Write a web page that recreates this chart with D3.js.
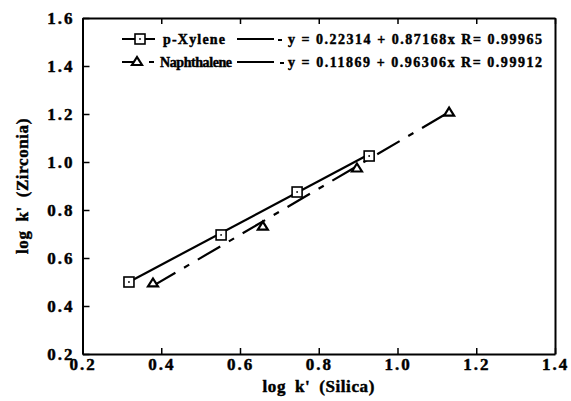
<!DOCTYPE html>
<html><head><meta charset="utf-8">
<script src="https://cdn.jsdelivr.net/npm/d3@7"></script>
<style>
html,body{margin:0;padding:0;background:#fff;}
svg{display:block;}
text{font-family:"Liberation Serif","Times New Roman",serif;font-weight:bold;fill:#000;stroke:#000;stroke-width:0.45px;}
</style></head>
<body><svg id="c" width="571" height="401"></svg>
<script>
// ---- data ----
const xylSilica = [0.318, 0.552, 0.745, 0.928];
const xylZirconia = [0.500, 0.696, 0.875, 1.025];
const napSilica = [0.379, 0.658, 0.897, 1.131];
const napZirconia = [0.496, 0.733, 0.975, 1.208];
const seriesNames = ["p-Xylene", "Naphthalene"];
const fitIntercepts = [0.22314, 0.11869];
const fitSlopes = [0.87168, 0.96306];
const fitR = ["0.99965", "0.99912"];
const xTicks = [0.2, 0.4, 0.6, 0.8, 1.0, 1.2, 1.4];
const yTicks = [0.2, 0.4, 0.6, 0.8, 1.0, 1.2, 1.4, 1.6];

const svg = d3.select("#c");
const L = 82.5, R = 555, T = 18, B = 354;
const x = d3.scaleLinear().domain([0.2, 1.4]).range([L, R]);
const y = d3.scaleLinear().domain([0.2, 1.6]).range([B, T]);

// axes (ticks inward)
const gx = svg.append("g").attr("transform", `translate(0,${B})`)
  .call(d3.axisBottom(x).tickValues(xTicks).tickSize(-6).tickSizeOuter(0).tickPadding(4).tickFormat(d3.format(".1f")));
const gy = svg.append("g").attr("transform", `translate(${L},0)`)
  .call(d3.axisLeft(y).tickValues(yTicks).tickSize(-7).tickSizeOuter(0).tickPadding(10).tickFormat(d3.format(".1f")));
const gt = svg.append("g").attr("transform", `translate(0,${T})`)
  .call(d3.axisTop(x).tickValues(xTicks).tickSize(-6).tickSizeOuter(0).tickFormat(""));
const gr = svg.append("g").attr("transform", `translate(${R},0)`)
  .call(d3.axisRight(y).tickValues([]).tickSizeOuter(0));
[gx, gy, gt, gr].forEach(g => {
  g.select(".domain").attr("stroke", "#000").attr("stroke-width", 2);
  g.selectAll(".tick line").attr("stroke", "#000").attr("stroke-width", 1.5);
});
gx.selectAll(".tick text").attr("font-size", 17).attr("letter-spacing", "2px")
  .attr("font-family", "Liberation Serif").attr("font-weight", "bold").attr("fill", "#000").attr("dy", "0.72em");
gy.selectAll(".tick text").attr("font-size", 17).attr("letter-spacing", "2px")
  .attr("font-family", "Liberation Serif").attr("font-weight", "bold").attr("fill", "#000").attr("x", -8);

// axis titles
svg.append("text").attr("x", (L + R) / 2).attr("y", 392).attr("text-anchor", "middle")
  .attr("font-size", 17).attr("letter-spacing", "0.6px").attr("word-spacing", "4px").text("log k' (Silica)");
svg.append("text").attr("transform", `translate(28,${(T + B) / 2}) rotate(-90)`).attr("text-anchor", "middle")
  .attr("font-size", 17).attr("letter-spacing", "0.6px").attr("word-spacing", "4px").text("log k' (Zirconia)");

// fit lines
const dashNap = "26,10,6,10";
function fitLine(i, xs, dash) {
  const x0 = xs[0], x1 = xs[xs.length - 1];
  svg.append("line")
    .attr("x1", x(x0)).attr("y1", y(fitIntercepts[i] + fitSlopes[i] * x0))
    .attr("x2", x(x1)).attr("y2", y(fitIntercepts[i] + fitSlopes[i] * x1))
    .attr("stroke", "#000").attr("stroke-width", 2.2).attr("stroke-dasharray", dash);
}
fitLine(0, xylSilica, null);
fitLine(1, napSilica, dashNap);

// markers
function square(g, cx, cy) {
  g.append("rect").attr("x", cx - 5).attr("y", cy - 5).attr("width", 10).attr("height", 10)
    .attr("fill", "#fff").attr("stroke", "#000").attr("stroke-width", 1.6);
  g.append("circle").attr("cx", cx).attr("cy", cy).attr("r", 0.9).attr("fill", "#000");
}
function tri(g, cx, cy) {
  g.append("path").attr("d", `M${cx - 5},${cy + 3.5} L${cx + 5},${cy + 3.5} L${cx},${cy - 4.5} Z`)
    .attr("fill", "#fff").attr("stroke", "#000").attr("stroke-width", 2.2);
}
const gm = svg.append("g");
xylSilica.forEach((v, i) => square(gm, x(v), y(xylZirconia[i])));
napSilica.forEach((v, i) => tri(gm, x(v), y(napZirconia[i])));

// legend
const lg = svg.append("g");
const rows = [39, 62];
// row 1 symbol
lg.append("line").attr("x1", 122).attr("x2", 155).attr("y1", rows[0]).attr("y2", rows[0]).attr("stroke", "#000").attr("stroke-width", 2);
square(lg, 140, rows[0]);
// row 2 symbol
lg.append("line").attr("x1", 122).attr("x2", 134).attr("y1", rows[1]).attr("y2", rows[1]).attr("stroke", "#000").attr("stroke-width", 2);
tri(lg, 137, rows[1] - 0.5);
lg.append("line").attr("x1", 149).attr("x2", 154).attr("y1", rows[1]).attr("y2", rows[1]).attr("stroke", "#000").attr("stroke-width", 2);
lg.append("text").attr("x", 163).attr("y", rows[0] + 4.5).attr("font-size", 14)
  .attr("textLength", 62).attr("lengthAdjust", "spacing").text(seriesNames[0]);
lg.append("text").attr("x", 160).attr("y", rows[1] + 4.5).attr("font-size", 14)
  .attr("textLength", 72).attr("lengthAdjust", "spacing").text(seriesNames[1]);
// fit samples
lg.append("line").attr("x1", 237).attr("x2", 274).attr("y1", rows[0]).attr("y2", rows[0]).attr("stroke", "#000").attr("stroke-width", 2);
lg.append("line").attr("x1", 278).attr("x2", 282).attr("y1", rows[0] + 1).attr("y2", rows[0] + 1).attr("stroke", "#000").attr("stroke-width", 2);
lg.append("line").attr("x1", 237).attr("x2", 274).attr("y1", rows[1]).attr("y2", rows[1]).attr("stroke", "#000").attr("stroke-width", 2);
lg.append("line").attr("x1", 280).attr("x2", 284).attr("y1", rows[1] + 1).attr("y2", rows[1] + 1).attr("stroke", "#000").attr("stroke-width", 2);
[0, 1].forEach(i => {
  lg.append("text").attr("x", 288).attr("y", rows[i] + 4.5).attr("font-size", 14)
    .attr("textLength", 254).attr("lengthAdjust", "spacing")
    .text(`y = ${fitIntercepts[i].toFixed(5)} + ${fitSlopes[i].toFixed(5)}x R= ${fitR[i]}`);
});
</script></body></html>
